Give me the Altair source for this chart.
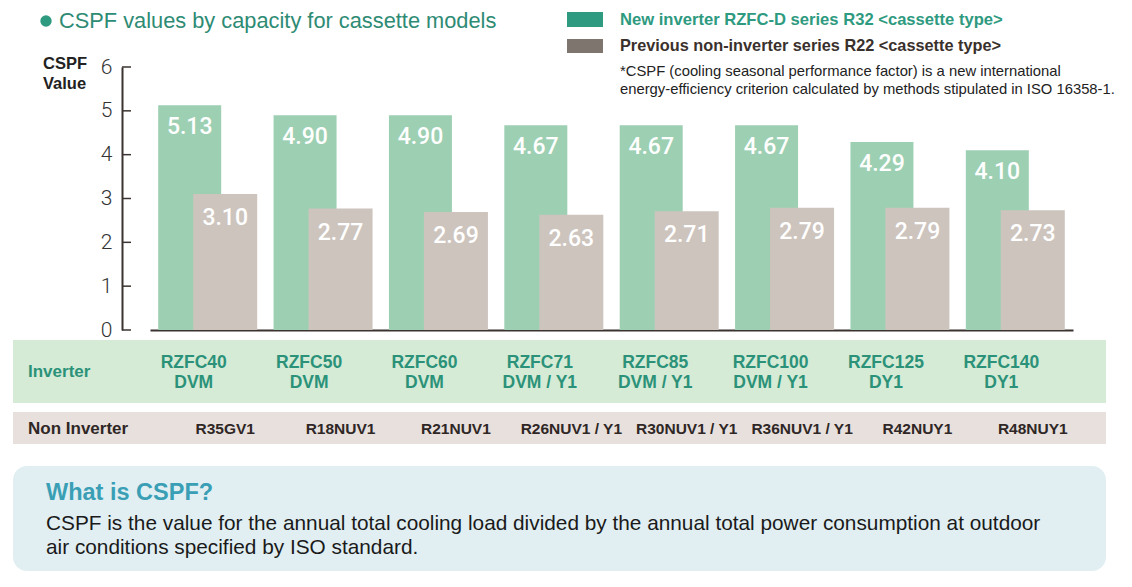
import altair as alt
import pandas as pd

# ---- data ----
inverter_models = ["RZFC40\nDVM", "RZFC50\nDVM", "RZFC60\nDVM", "RZFC71\nDVM / Y1",
                   "RZFC85\nDVM / Y1", "RZFC100\nDVM / Y1", "RZFC125\nDY1", "RZFC140\nDY1"]
non_inverter_models = ["R35GV1", "R18NUV1", "R21NUV1", "R26NUV1 / Y1",
                       "R30NUV1 / Y1", "R36NUV1 / Y1", "R42NUY1", "R48NUY1"]
inverter_cspf = [5.13, 4.90, 4.90, 4.67, 4.67, 4.67, 4.29, 4.10]
non_inverter_cspf = [3.10, 2.77, 2.69, 2.63, 2.71, 2.79, 2.79, 2.73]
y_ticks = [0, 1, 2, 3, 4, 5, 6]

title_text = "CSPF values by capacity for cassette models"
legend_new = "New inverter RZFC-D series R32 <cassette type>"
legend_old = "Previous non-inverter series R22 <cassette type>"
note_lines = ["*CSPF (cooling seasonal performance factor) is a new international",
              "energy-efficiency criterion calculated by methods stipulated in ISO 16358-1."]
box_title = "What is CSPF?"
box_lines = ["CSPF is the value for the annual total cooling load divided by the annual total power consumption at outdoor",
             "air conditions specified by ISO standard."]

df = pd.DataFrame({
    "inv_model": inverter_models,
    "non_model": non_inverter_models,
    "inv": inverter_cspf,
    "non": non_inverter_cspf,
})
df["inv_label"] = [f"{v:.2f}" for v in inverter_cspf]
df["non_label"] = [f"{v:.2f}" for v in non_inverter_cspf]

GREEN_BAR = "#9dcfb3"
GRAY_BAR = "#cdc4be"
TEAL = "#2b9279"
DARK = "#3a3330"
FONT = "Liberation Sans"
NUMFONT = "Roboto"

W, H = 982, 263
xscale = alt.Scale(range=[28, 951], paddingInner=0, paddingOuter=0)
yscale = alt.Scale(domain=[0, 6], nice=False)

xenc = alt.X("inv_model:N", sort=None, scale=xscale,
             axis=alt.Axis(labels=False, ticks=False, title=None, domain=True,
                           domainColor=DARK, domainWidth=2))
yaxis = alt.Axis(values=y_ticks, ticks=False, grid=False, title=None, labelPadding=10,
                 labelFontSize=21, labelFont=NUMFONT, labelFontWeight=300, labelColor="#333",
                 domainColor=DARK, domainWidth=2)

base = alt.Chart(df)

one = pd.DataFrame({"k": [0]})


def rect(x, x2, y, y2, color, radius=0):
    return alt.Chart(one).mark_rect(color=color, cornerRadius=radius).encode(
        x=alt.value(x), x2=alt.value(x2), y=alt.value(y), y2=alt.value(y2))


def label(text, x, y, size, color, weight="normal", align="left", font=FONT):
    return alt.Chart(pd.DataFrame({"t": [text]})).mark_text(
        align=align, baseline="middle", fontSize=size, fontWeight=weight, color=color, font=font
    ).encode(x=alt.value(x), y=alt.value(y), text="t:N")


# backgrounds
row_inv = rect(-109, 984, 273, 336, "#d5ebd6")
row_non = rect(-109, 984, 345, 377, "#e7e0dd")
box = rect(-109, 984, 399, 504, "#e1eff3", radius=14)

green = base.mark_bar(color=GREEN_BAR, size=63, xOffset=-18).encode(
    x=xenc, y=alt.Y("inv:Q", scale=yscale, axis=yaxis))
gray = base.mark_bar(color=GRAY_BAR, size=64, xOffset=17.5).encode(
    x=alt.X("inv_model:N", sort=None, scale=xscale), y=alt.Y("non:Q", scale=yscale))

green_lbl = base.mark_text(color="white", fontSize=23, fontWeight=500, font=NUMFONT,
                           baseline="middle", dy=22, xOffset=-18).encode(
    x=alt.X("inv_model:N", sort=None, scale=xscale), y=alt.Y("inv:Q", scale=yscale), text="inv_label:N")
gray_lbl = base.mark_text(color="white", fontSize=23, fontWeight=500, font=NUMFONT,
                          baseline="middle", dy=24, xOffset=17.5).encode(
    x=alt.X("inv_model:N", sort=None, scale=xscale), y=alt.Y("non:Q", scale=yscale), text="non_label:N")

ticks = alt.Chart(pd.DataFrame({"v": y_ticks})).mark_rule(color=DARK, strokeWidth=1.5).encode(
    y=alt.Y("v:Q", scale=yscale), x=alt.value(0), x2=alt.value(9))

inv_names = base.mark_text(color=TEAL, fontSize=17.5, fontWeight="bold", font=FONT,
                           lineBreak="\n", lineHeight=20, baseline="middle", xOffset=-14).encode(
    x=alt.X("inv_model:N", sort=None, scale=xscale), y=alt.value(296), text="inv_model:N")
non_names = base.mark_text(color="#2f2725", fontSize=15.5, fontWeight="bold", font=FONT,
                           baseline="middle", xOffset=17.5).encode(
    x=alt.X("inv_model:N", sort=None, scale=xscale), y=alt.value(362), text="non_model:N")

bullet = alt.Chart(one).mark_point(filled=True, shape="circle", size=130, color="#2e9a80", opacity=1).encode(
    x=alt.value(-76), y=alt.value(-46))

layers = [
    row_inv, row_non, box,
    green, gray, green_lbl, gray_lbl, ticks, inv_names, non_names,
    bullet,
    label(title_text, -63, -46, 21.8, "#2e8b74"),
    rect(445, 481, -55, -40, "#2e9a80"),
    rect(445, 481, -28, -14, "#7f756f"),
    label(legend_new, 498, -47, 16.6, "#2e9a80", "bold"),
    label(legend_old, 498, -21, 16.3, "#3a302c", "bold"),
    label(note_lines[0], 498, 5, 14.8, "#222"),
    label(note_lines[1], 498, 23, 14.8, "#222"),
    label("CSPF", -79, -3, 16.5, "#222", "bold"),
    label("Value", -79, 17, 16.5, "#222", "bold"),
    label("Inverter", -94, 305, 17, TEAL, "bold"),
    label("Non Inverter", -94, 362, 17, "#2f2725", "bold"),
    label(box_title, -76, 426, 23.5, "#3a9fb5", "bold"),
    label(box_lines[0], -76, 457, 20.8, "#1a1a1a"),
    label(box_lines[1], -76, 481, 20.8, "#1a1a1a"),
]

chart = alt.layer(*layers).properties(
    width=W, height=H,
    autosize=alt.AutoSizeParams(type="none"),
    padding={"left": 114, "top": 59, "right": 18, "bottom": 248},
    background="white",
).configure_view(stroke=None)

chart.save("out.html", embed_options={"renderer": "svg", "actions": False})
